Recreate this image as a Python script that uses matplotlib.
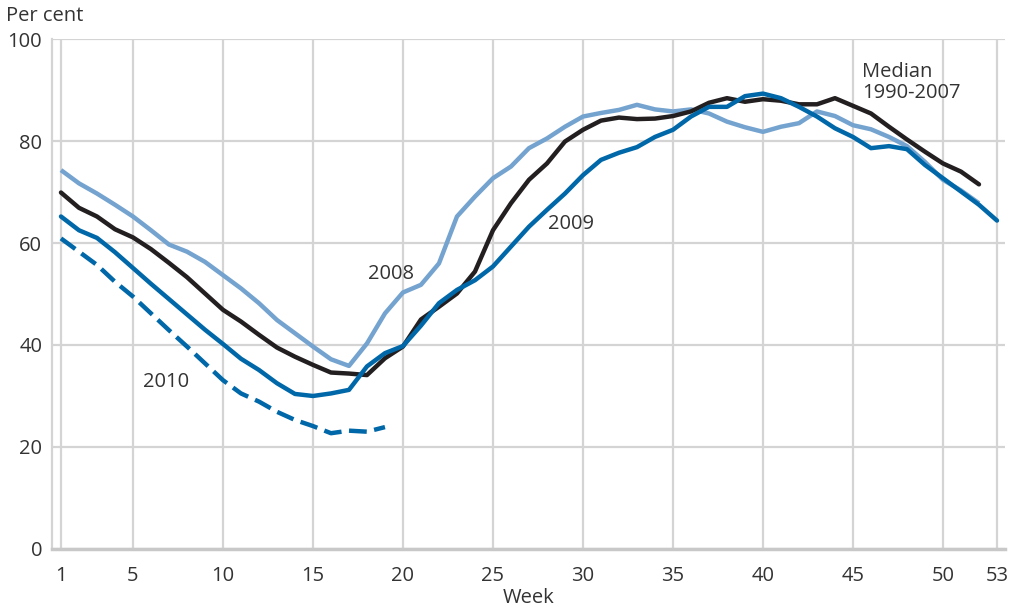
import numpy as np
import matplotlib.pyplot as plt

plt.rcParams['font.family'] = ['Open Sans', 'DejaVu Sans']

# weekly values, per cent
weeks = np.arange(1, 54)

median_9007 = [69.9, 66.9, 65.2, 62.7, 61.1, 58.8, 56.1, 53.3, 50.1, 46.9,
               44.6, 42.0, 39.5, 37.7, 36.1, 34.6, 34.4, 34.1, 37.4, 39.7,
               45.0, 47.5, 50.1, 54.4, 62.5, 67.8, 72.4, 75.6, 79.9, 82.2,
               84.0, 84.6, 84.3, 84.4, 84.9, 85.8, 87.5, 88.4, 87.7, 88.2,
               87.9, 87.2, 87.2, 88.4, 86.9, 85.4, 82.8, 80.3, 77.9, 75.6,
               74.0, 71.5]

y2008 = [74.3, 71.7, 69.7, 67.5, 65.2, 62.5, 59.7, 58.3, 56.3, 53.7,
         51.1, 48.2, 44.9, 42.3, 39.7, 37.2, 35.9, 40.3, 46.2, 50.3,
         51.8, 56.0, 65.2, 69.1, 72.7, 75.0, 78.6, 80.5, 82.8, 84.8,
         85.5, 86.1, 87.1, 86.2, 85.8, 86.2, 85.4, 83.8, 82.7, 81.8,
         82.8, 83.5, 85.8, 84.9, 83.1, 82.3, 80.8, 79.0, 75.9, 72.4,
         70.3, 67.8]

y2009 = [65.2, 62.5, 61.0, 58.2, 55.1, 52.0, 49.0, 46.0, 43.0, 40.2,
         37.3, 35.1, 32.5, 30.4, 30.0, 30.5, 31.2, 35.8, 38.4, 39.8,
         43.8, 48.2, 50.8, 52.7, 55.4, 59.3, 63.2, 66.5, 69.7, 73.3,
         76.3, 77.7, 78.8, 80.8, 82.2, 84.8, 86.7, 86.7, 88.8, 89.3,
         88.4, 86.7, 84.8, 82.5, 80.8, 78.6, 79.0, 78.4, 75.3, 72.7,
         70.1, 67.5, 64.4]

y2010 = [60.9, 58.3, 55.7, 52.4, 49.5, 46.2, 42.9, 39.7, 36.4, 33.1,
         30.5, 28.9, 26.9, 25.3, 24.1, 22.7, 23.2, 23.0, 23.9]

xticks = [1, 5, 10, 15, 20, 25, 30, 35, 40, 45, 50, 53]
yticks = [0, 20, 40, 60, 80, 100]

dark_blue = '#0068a8'
light_blue = '#74a3cf'
black = '#231f20'
text_col = '#333333'
grid_col = '#d4d4d4'
fs = 14.5

fig = plt.figure(figsize=(10.17, 6.07), dpi=100)
ax = fig.add_axes([0.0511, 0.0956, 0.937, 0.8401])

ax.plot(weeks[:len(y2008)], y2008, color=light_blue, lw=3.2, solid_capstyle='butt', zorder=3)
ax.plot(weeks[:len(median_9007)], median_9007, color=black, lw=3.2, solid_capstyle='round', zorder=4)
ax.plot(weeks[:len(y2009)], y2009, color=dark_blue, lw=3.2, solid_capstyle='round', zorder=5)
ax.plot(weeks[:len(y2010)], y2010, color=dark_blue, lw=3.2, ls=(0, (4, 1.7)), zorder=5)

ax.set_xlim(0.5, 53.44)
ax.set_ylim(0, 100)
ax.set_xticks(xticks)
ax.set_yticks(yticks)
ax.grid(True, color=grid_col, lw=1.6)
ax.set_axisbelow(True)
ax.tick_params(length=0, labelsize=fs, labelcolor=text_col)
ax.tick_params(axis='x', pad=12)
ax.tick_params(axis='y', pad=7)

for s in ['top', 'right']:
    ax.spines[s].set_visible(False)
ax.spines['left'].set_color(grid_col)
ax.spines['left'].set_linewidth(1.6)
ax.spines['bottom'].set_color('#c8c8c8')
ax.spines['bottom'].set_linewidth(2.5)

ax.set_xlabel('Week', fontsize=fs, color=text_col, labelpad=2)
fig.text(0.006, 0.99, 'Per cent', fontsize=fs, color=text_col, va='top', ha='left')

ax.text(18.05, 54.0, '2008', fontsize=fs, color=text_col, ha='left', va='center')
ax.text(28.05, 63.7, '2009', fontsize=fs, color=text_col, ha='left', va='center')
ax.text(5.55, 32.7, '2010', fontsize=fs, color=text_col, ha='left', va='center')
ax.text(45.5, 91.5, 'Median\n1990-2007', fontsize=fs, color=text_col, ha='left', va='center',
        linespacing=1.05)

fig.savefig('out.png', dpi=100)
